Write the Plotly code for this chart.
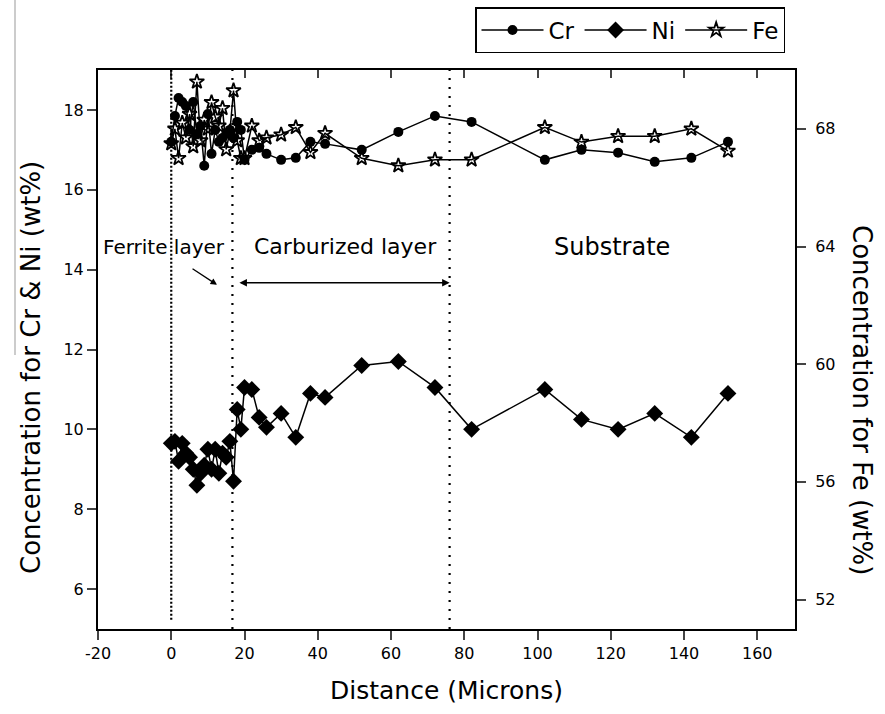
import plotly.graph_objects as go

# ---------------- data ----------------
distance = [0, 1, 2, 3, 4, 5, 6, 7, 8, 9, 10, 11, 12, 13, 14, 15, 16, 17, 18, 19, 20,
            22, 24, 26, 30, 34, 38, 42, 52, 62, 72, 82, 102, 112, 122, 132, 142, 152]

cr = [17.2, 17.85, 18.3, 18.2, 18.1, 17.5, 18.2, 17.4, 17.6, 16.6, 17.9, 16.9, 17.5, 17.2,
      17.3, 17.4, 17.5, 17.3, 17.7, 17.5, 16.75,
      17.0, 17.05, 16.9, 16.75, 16.8, 17.2, 17.15, 17.0, 17.45, 17.85, 17.7, 16.75, 17.0,
      16.93, 16.7, 16.8, 17.2]

ni = [9.65, 9.7, 9.2, 9.65, 9.4, 9.3, 9.0, 8.6, 8.9, 9.1, 9.5, 9.0, 9.5, 8.9, 9.4, 9.3,
      9.7, 8.7, 10.5, 10.0, 11.05,
      11.0, 10.3, 10.05, 10.4, 9.8, 10.9, 10.8, 11.6, 11.7, 11.05, 10.0, 11.0, 10.25,
      10.0, 10.4, 9.8, 10.9]

fe = [67.5, 68.0, 67.0, 68.2, 67.7, 68.5, 67.4, 69.6, 67.6, 68.3, 68.0, 68.9, 68.4, 68.1,
      68.7, 67.3, 67.9, 69.3, 67.6, 67.0, 67.0,
      68.1, 67.6, 67.7, 67.8, 68.05, 67.2, 67.85, 67.0, 66.75, 66.95, 66.95, 68.05, 67.55,
      67.75, 67.75, 68.0, 67.25]

layer_boundaries = [0, 16.7, 76]
layer_labels = ["Ferrite layer", "Carburized layer", "Substrate"]
layer_label_x = [-2.0, 47.5, 120.4]
layer_label_sizes = [20, 22, 24]
layer_label_y = 14.57
arrow_y = 13.67

x_ticks = list(range(-20, 161, 20))
x_tick_text = ["-20", "0", "20", "40", "60", "80", "100", "120", "140", "160"]
left_ticks = [6, 8, 10, 12, 14, 16, 18]
right_ticks = [52, 56, 60, 64, 68]
x_range = [-20, 170.3]
left_range = [5, 19]
right_range = [51, 70]

FONT = "DejaVu Sans"

fig = go.Figure()

fig.add_trace(go.Scatter(
    x=distance, y=cr, name="Cr", mode="lines+markers",
    line=dict(color="black", width=1.5),
    marker=dict(symbol="circle", size=10, color="black"),
))
fig.add_trace(go.Scatter(
    x=distance, y=ni, name="Ni", mode="lines+markers",
    line=dict(color="black", width=1.5),
    marker=dict(symbol="diamond", size=13, color="black"),
))
fig.add_trace(go.Scatter(
    x=distance, y=fe, name="Fe", mode="lines+markers", yaxis="y2",
    line=dict(color="black", width=1.5),
    marker=dict(symbol="star-open", size=11, color="black", line=dict(width=1.8)),
))
# dummy trace so the top axis is drawn
fig.add_trace(go.Scatter(x=[None], y=[None], xaxis="x2", showlegend=False, hoverinfo="skip"))

# vertical dotted boundaries
for i, b in enumerate(layer_boundaries):
    fig.add_shape(
        type="line", xref="x", yref="y", x0=b, x1=b,
        y0=5.23 if i == 0 else left_range[0], y1=left_range[1],
        line=dict(color="black", width=2.2, dash="2px,2px" if i == 0 else "2px,7px"),
    )

# layer labels
for lab, lx, ls in zip(layer_labels, layer_label_x, layer_label_sizes):
    fig.add_annotation(x=lx, y=layer_label_y, xref="x", yref="y", text=lab,
                       showarrow=False, font=dict(family=FONT, size=ls, color="black"))

# ferrite arrow
fig.add_annotation(x=12.5, y=13.62, xref="x", yref="y", text="", showarrow=True,
                   ax=-26, ay=-17, arrowhead=2, arrowsize=1, arrowwidth=1.3, arrowcolor="black")
# carburized double arrow
fig.add_annotation(x=layer_boundaries[2], y=arrow_y, xref="x", yref="y",
                   ax=18.2, ay=arrow_y, axref="x", ayref="y", text="", showarrow=True,
                   arrowhead=2, startarrowhead=2, arrowside="end+start",
                   arrowsize=1, arrowwidth=1.5, arrowcolor="black")

# axis titles (pixel positions converted below)
fig.add_annotation(x=31, y=368, xref="paper", yref="paper", text="Concentration for Cr & Ni (wt%)",
                   showarrow=False, textangle=-90, xanchor="center", yanchor="middle",
                   font=dict(family=FONT, size=26, color="black"))
fig.add_annotation(x=862, y=400, xref="paper", yref="paper", text="Concentration for Fe (wt%)",
                   showarrow=False, textangle=90, xanchor="center", yanchor="middle",
                   font=dict(family=FONT, size=26, color="black"))
fig.add_annotation(x=446, y=690, xref="paper", yref="paper", text="Distance (Microns)",
                   showarrow=False, xanchor="center", yanchor="middle",
                   font=dict(family=FONT, size=25, color="black"))

L, R, T, B = 98, 90, 70, 85
W, H = 885, 714
pw, ph = W - L - R, H - T - B
for ann in fig.layout.annotations[-3:]:
    px, py = ann.x, ann.y
    ann.x = (px - L) / pw
    ann.y = 1 - (py - T) / ph

# scan artifact line at far left
fig.add_shape(type="line", xref="paper", yref="paper",
              x0=(15 - L) / pw, x1=(15 - L) / pw, y0=1 + T / ph, y1=1 - (355 - T) / ph,
              line=dict(color="#999999", width=1))

tickfont = dict(family=FONT, size=16, color="black")
fig.update_layout(
    width=W, height=H,
    margin=dict(l=L, r=R, t=T, b=B, autoexpand=False),
    paper_bgcolor="white", plot_bgcolor="white",
    showlegend=True,
    legend=dict(orientation="h", x=(475 - L) / pw, y=1 + (T - 7) / ph,
                xanchor="left", yanchor="top",
                bgcolor="white", bordercolor="black", borderwidth=1.5,
                font=dict(family=FONT, size=23, color="black"),
                itemwidth=62, tracegroupgap=0),
    xaxis=dict(range=x_range, tickvals=x_ticks, ticktext=x_tick_text, ticks="outside",
               ticklen=9, tickwidth=2, automargin=False,
               showline=True, linewidth=2, linecolor="black", showgrid=False, zeroline=False,
               tickfont=tickfont),
    xaxis2=dict(range=x_range, tickvals=x_ticks, overlaying="x", side="top", anchor="y",
                ticks="inside", ticklen=8, tickwidth=2, showticklabels=False, automargin=False,
                showline=True, linewidth=2, linecolor="black", showgrid=False, zeroline=False),
    yaxis=dict(range=left_range, tickvals=left_ticks, ticks="outside", ticklen=9, tickwidth=2,
               showline=True, linewidth=2, linecolor="black", showgrid=False, zeroline=False,
               tickfont=tickfont, automargin=False),
    yaxis2=dict(range=right_range, tickvals=right_ticks, overlaying="y", side="right",
                ticks="outside", ticklen=9, tickwidth=2, ticklabelstandoff=6, automargin=False,
                showline=True, linewidth=2, linecolor="black", showgrid=False, zeroline=False,
                tickfont=tickfont),
)

fig.write_html("out.html")
